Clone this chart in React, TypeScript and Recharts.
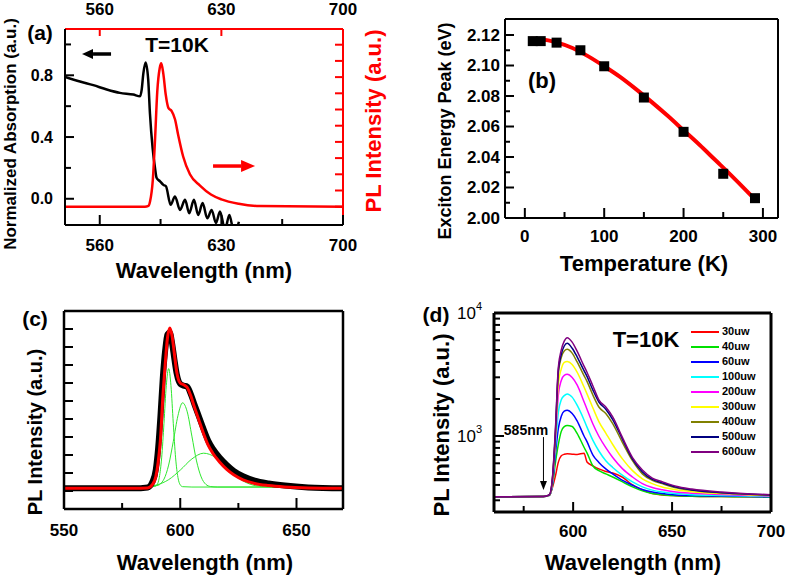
import React from 'react'
import { ComposedChart, Line, Scatter, XAxis, YAxis, ReferenceLine, Legend } from 'recharts'

const W = 787
const H = 578
const FONT = '"Liberation Sans", Arial, Helvetica, sans-serif'

// (a) absorption + PL at 10 K
const absNm = [540, 548.6, 556.3, 564, 571.6, 579.3, 583.2, 584.1, 585.1, 586.4, 587.9, 588.9, 590.4, 591.8, 592.7, 594.7, 596.6, 598.1, 600.8, 603.3, 606.2, 609.1, 611.5, 614.2, 616.7, 619.2, 621.9, 624.4, 626.9, 629.2, 632.1, 634.6, 637.3, 640.1]
const absVal = [0.79, 0.76, 0.736, 0.708, 0.686, 0.675, 0.664, 0.704, 0.813, 0.883, 0.77, 0.551, 0.332, 0.2, 0.136, 0.113, 0.09, 0.081, -0.039, 0.015, -0.072, -0.007, -0.094, -0.007, -0.105, -0.028, -0.127, -0.072, -0.157, -0.083, -0.2, -0.105, -0.22, -0.149]
const plNm = [540, 586, 588, 589, 590.5, 591.8, 593.1, 594.5, 595.4, 596.6, 598, 599.5, 601.4, 603.3, 605.2, 608, 611.9, 617.7, 624, 630, 640, 652, 700]
const plVal = [0, 0, 0.05, 0.35, 1.6, 4.1, 7.1, 8.55, 8.85, 8.2, 6.9, 6.1, 5.9, 5.4, 4.4, 3.1, 2.0, 1.3, 0.75, 0.45, 0.18, 0.04, 0]

// (b) exciton peak vs temperature
const tempK = [10, 20, 40, 70, 100, 150, 200, 250, 290]
const peakEv = [2.116, 2.116, 2.115, 2.11, 2.0995, 2.079, 2.0565, 2.029, 2.013]
const fitK = [8, 20, 40, 60, 80, 100, 120, 140, 160, 180, 200, 220, 240, 260, 280, 292]
const fitEv = [2.1175, 2.1172, 2.1152, 2.1115, 2.106, 2.0995, 2.0925, 2.0845, 2.076, 2.067, 2.0575, 2.048, 2.038, 2.028, 2.0175, 2.011]

// (c) PL spectrum with three-peak fit
const specNm = [550, 580, 586, 588, 589.5, 590.5, 591.5, 592.5, 593.5, 594.5, 595.5, 596.5, 597.5, 598.5, 600, 601.5, 603, 604.5, 606, 608, 610, 612, 614, 617, 620, 623, 627, 632, 638, 645, 655, 670]
const specData = [1.15, 1.15, 1.2, 1.5, 2.2, 3.4, 5.2, 7.3, 8.8, 9.7, 9.8, 9.2, 8.3, 7.5, 6.95, 6.85, 6.8, 6.4, 5.85, 5.15, 4.45, 3.8, 3.35, 2.85, 2.45, 2.12, 1.82, 1.58, 1.42, 1.3, 1.2, 1.15]
const specFit = [1.15, 1.15, 1.17, 1.35, 1.8, 2.6, 3.9, 6.2, 8.0, 9.5, 10.05, 9.6, 8.6, 7.6, 7.0, 6.9, 6.75, 6.3, 5.7, 4.95, 4.2, 3.55, 3.1, 2.6, 2.2, 1.9, 1.62, 1.42, 1.3, 1.22, 1.17, 1.15]
const g1Nm = [580, 589, 590, 591, 592, 593, 594, 595, 596, 597, 598, 599, 600, 601, 605, 650]
const g1Val = [1.22, 1.25, 1.34, 1.76, 2.84, 4.76, 6.86, 7.8, 6.86, 4.76, 2.84, 1.76, 1.34, 1.24, 1.22, 1.22]
const g2Nm = [580, 590, 593, 595, 597, 599, 601, 603, 605, 607, 609, 611, 613, 616, 650]
const g2Val = [1.22, 1.3, 1.66, 2.44, 3.75, 5.18, 5.9, 5.4, 4.05, 2.67, 1.78, 1.37, 1.25, 1.22, 1.22]
const g3Nm = [580, 585, 590, 595, 600, 605, 610, 615, 620, 625, 630, 635, 640, 650]
const g3Val = [1.22, 1.24, 1.34, 1.63, 2.16, 2.78, 3.1, 2.88, 2.29, 1.72, 1.38, 1.25, 1.22, 1.22]

// (d) power dependent PL (log scale)
const wlD = [560, 585, 588, 589.5, 591, 592.5, 594, 595.5, 597, 599.5, 602, 605.5, 607, 610, 613, 616.5, 620, 625, 630, 635, 640, 645, 652, 660, 675, 690, 700]
const p30 = [320, 322, 330, 380, 470, 610, 690, 710, 716, 712, 708, 725, 615, 572, 540, 515, 500, 462, 400, 365, 340, 332, 327, 324, 322, 320, 318]
const p40 = [320, 322, 330, 390, 600, 850, 1090, 1190, 1216, 1194, 1050, 810, 730, 570, 523, 492, 464, 423, 386, 358, 341, 333, 327, 324, 322, 320, 318]
const p60 = [320, 322, 330, 400, 700, 1150, 1450, 1590, 1618, 1524, 1330, 1000, 900, 700, 610, 540, 492, 436, 398, 367, 350, 340, 332, 328, 325, 322, 320]
const p100 = [320, 322, 330, 410, 800, 1550, 1970, 2130, 2200, 2070, 1780, 1350, 1180, 920, 755, 630, 555, 478, 423, 386, 363, 350, 340, 333, 328, 324, 322]
const p200 = [320, 322, 331, 420, 900, 2150, 2830, 3110, 3170, 2990, 2600, 1900, 1650, 1250, 995, 803, 668, 540, 464, 410, 381, 365, 350, 342, 334, 328, 325]
const p300 = [320, 322, 331, 430, 950, 2650, 3500, 3960, 4040, 3810, 3300, 2500, 2200, 1690, 1310, 1056, 853, 648, 523, 449, 410, 385, 365, 352, 340, 332, 328]
const p400 = [320, 322, 332, 440, 1000, 3200, 4350, 4920, 5070, 4720, 4000, 3100, 2780, 2150, 1722, 1524, 1260, 880, 630, 492, 436, 410, 380, 362, 345, 335, 330]
const p500 = [320, 322, 332, 445, 1050, 3400, 4600, 5390, 5670, 5170, 4400, 3400, 3050, 2360, 1890, 1650, 1360, 935, 648, 510, 444, 416, 384, 364, 346, 336, 331]
const p600 = [320, 322, 333, 450, 1100, 3600, 5000, 5900, 6300, 5800, 4900, 3700, 3300, 2550, 1970, 1722, 1430, 964, 668, 530, 455, 425, 390, 370, 350, 338, 333]
const powerNames = ['30uw', '40uw', '60uw', '100uw', '200uw', '300uw', '400uw', '500uw', '600uw']
const powerColors = ['#ff0000', '#00e000', '#0000ff', '#00ffff', '#ff00ff', '#ffff00', '#808000', '#000080', '#800080']
const powerValues = [p30, p40, p60, p100, p200, p300, p400, p500, p600]

const pts = (xs: number[], ys: number[]) => xs.map((x, i) => ({ x, y: ys[i] }))

type Side = 'bottom' | 'top' | 'left' | 'right'
interface TickCfg {
  side: Side
  color?: string
  major?: number[]
  label?: (v: number) => React.ReactNode
  long?: number
  short?: number
  gap?: number
  size?: number
  weight?: string
}

function makeTick(c: TickCfg) {
  return (p: any) => {
    const v = p.payload.value
    const { x, y } = p
    const isMajor = !c.major || c.major.some((m) => Math.abs(m - v) < 1e-9)
    const len = isMajor ? (c.long ?? 8) : (c.short ?? 5)
    const gap = c.gap ?? 18
    const st = { fontFamily: FONT, fontWeight: c.weight ?? 'bold', fontSize: c.size ?? 16 }
    const txt = isMajor && c.label ? c.label(v) : null
    let ln = null
    let tx = null
    if (c.side === 'bottom') {
      ln = <line x1={x} y1={y} x2={x} y2={y - len} />
      if (txt != null) tx = <text x={x} y={y + gap} textAnchor="middle" dominantBaseline="central" style={st} fill="#000">{txt}</text>
    } else if (c.side === 'top') {
      ln = <line x1={x} y1={y} x2={x} y2={y + len} />
      if (txt != null) tx = <text x={x} y={y - gap} textAnchor="middle" dominantBaseline="central" style={st} fill="#000">{txt}</text>
    } else if (c.side === 'left') {
      ln = <line x1={x} y1={y} x2={x + len} y2={y} />
      if (txt != null) tx = <text x={x - gap} y={y} textAnchor="end" dominantBaseline="central" style={st} fill="#000">{txt}</text>
    } else {
      ln = <line x1={x} y1={y} x2={x - len} y2={y} />
    }
    return <g stroke={c.color ?? '#000'} strokeWidth={2}>{ln}<g stroke="none">{tx}</g></g>
  }
}

function arrowShape(color: string, w: number, head: number, half: number) {
  return (p: any) => {
    const { x1, y1, x2, y2 } = p
    const a = Math.atan2(y2 - y1, x2 - x1)
    const bx = x2 - head * Math.cos(a)
    const by = y2 - head * Math.sin(a)
    const px = -Math.sin(a) * half
    const py = Math.cos(a) * half
    return <g>
      <line x1={x1} y1={y1} x2={bx} y2={by} stroke={color} strokeWidth={w} />
      <polygon points={`${x2},${y2} ${bx + px},${by + py} ${bx - px},${by - py}`} fill={color} />
    </g>
  }
}

function Txt({ x, y, size, children, rot, color }: { x: number; y: number; size: number; children: React.ReactNode; rot?: boolean; color?: string }) {
  return <div style={{
    position: 'absolute', left: x, top: y, transform: `translate(-50%, -50%)${rot ? ' rotate(-90deg)' : ''}`,
    fontFamily: FONT, fontWeight: 'bold', fontSize: size, whiteSpace: 'nowrap', color: color ?? '#000', lineHeight: 1,
  }}>{children}</div>
}

const frame = (c = '#000', w = 2) => ({ stroke: c, strokeWidth: w })
// axes are 1px wide/high, so the margin stops 1px short of the plot box
const margins = (l: number, t: number, r: number, b: number) => ({ left: l - 1, top: t - 1, right: W - r - 1, bottom: H - b - 1 })
const sup = (v: number) => <><tspan>10</tspan><tspan dy={-7} fontSize={11}>{Math.round(Math.log10(v))}</tspan></>

function PowerLegend({ payload }: any) {
  const items = [...(payload ?? [])].sort((a: any, b: any) => powerNames.indexOf(a.value) - powerNames.indexOf(b.value))
  return <div>
    {items.map((e: any) => <div key={e.value} style={{ display: 'flex', alignItems: 'center', height: 15 }}>
      <span style={{ display: 'inline-block', width: 28, borderTop: `2px solid ${e.color}`, marginRight: 3 }} />
      <span style={{ fontFamily: FONT, fontWeight: 'bold', fontSize: 11, lineHeight: '15px' }}>{e.value}</span>
    </div>)}
  </div>
}

const layer: React.CSSProperties = { position: 'absolute', left: 0, top: 0 }

export default function App() {
  return <div style={{ position: 'absolute', left: 0, top: 0, width: W, height: H, background: '#fff', overflow: 'hidden' }}>
    {/* (a) */}
    <div style={layer}>
      <ComposedChart width={W} height={H} margin={margins(65, 29, 343, 225)}>
        <XAxis xAxisId="b" dataKey="x" type="number" domain={[540, 700]} allowDataOverflow height={1} ticks={[560, 595, 630, 665, 700]} interval={0} tickSize={0} tickMargin={0} tickLine={false} axisLine={frame()} tick={makeTick({ side: 'bottom', major: [560, 630, 700], long: 10, short: 6, gap: 20, size: 17, label: (v) => String(v) })} />
        <XAxis xAxisId="t" orientation="top" dataKey="x" type="number" domain={[540, 700]} allowDataOverflow height={1} ticks={[560, 630, 700]} interval={0} tickSize={0} tickMargin={0} tickLine={false} axisLine={frame('#ff0000')} tick={makeTick({ side: 'top', color: '#ff0000', long: 7, gap: 20, size: 17, label: (v) => String(v) })} />
        <YAxis yAxisId="l" type="number" domain={[-0.17, 1.1]} allowDataOverflow width={1} ticks={[0, 0.2, 0.4, 0.6, 0.8, 1.0]} interval={0} tickSize={0} tickMargin={0} tickLine={false} axisLine={frame()} tick={makeTick({ side: 'left', major: [0, 0.4, 0.8], long: 9, short: 6, gap: 12, label: (v) => v.toFixed(1) })} />
        <YAxis yAxisId="r" orientation="right" type="number" domain={[-1.13, 10.97]} allowDataOverflow width={1} ticks={[0, 1, 2, 3, 4, 5, 6, 7, 8, 9, 10]} interval={0} tickSize={0} tickMargin={0} tickLine={false} axisLine={frame('#ff0000')} tick={makeTick({ side: 'right', color: '#ff0000', long: 8 })} />
        <Line xAxisId="b" yAxisId="l" data={pts(absNm, absVal)} dataKey="y" type="monotone" stroke="#000" strokeWidth={2.5} dot={false} activeDot={false} isAnimationActive={false} />
        <Line xAxisId="b" yAxisId="r" data={pts(plNm, plVal)} dataKey="y" type="monotone" stroke="#ff0000" strokeWidth={2.5} dot={false} activeDot={false} isAnimationActive={false} />
        <ReferenceLine xAxisId="b" yAxisId="l" segment={[{ x: 566.5, y: 0.938 }, { x: 549.8, y: 0.938 }]} shape={arrowShape('#000', 3.5, 11, 5)} />
        <ReferenceLine xAxisId="b" yAxisId="r" segment={[{ x: 625.2, y: 2.51 }, { x: 649.4, y: 2.51 }]} shape={arrowShape('#ff0000', 3.5, 14, 6)} />
      </ComposedChart>
    </div>

    {/* (b) */}
    <div style={layer}>
      <ComposedChart width={W} height={H} margin={margins(505, 19, 778, 218)}>
        <XAxis dataKey="x" type="number" domain={[-25, 319]} allowDataOverflow height={1} ticks={[0, 50, 100, 150, 200, 250, 300]} interval={0} tickSize={0} tickMargin={0} tickLine={false} axisLine={frame()} tick={makeTick({ side: 'bottom', major: [0, 100, 200, 300], long: 10, short: 6, gap: 18, size: 17, label: (v) => String(v) })} />
        <XAxis xAxisId="t" orientation="top" type="number" domain={[-25, 319]} allowDataOverflow height={1} tick={false} tickLine={false} axisLine={frame()} />
        <YAxis type="number" domain={[2.0, 2.1305]} allowDataOverflow width={1} ticks={[2.0, 2.01, 2.02, 2.03, 2.04, 2.05, 2.06, 2.07, 2.08, 2.09, 2.1, 2.11, 2.12]} interval={0} tickSize={0} tickMargin={0} tickLine={false} axisLine={frame()} tick={makeTick({ side: 'left', major: [2.0, 2.02, 2.04, 2.06, 2.08, 2.1, 2.12], long: 9, short: 5, gap: 5, size: 17, label: (v) => v.toFixed(2) })} />
        <YAxis yAxisId="r" orientation="right" type="number" domain={[2.0, 2.1305]} allowDataOverflow width={1} tick={false} tickLine={false} axisLine={frame()} />
        <Scatter data={pts(tempK, peakEv)} dataKey="y" fill="#000" isAnimationActive={false} shape={(p: any) => <rect x={p.cx - 5} y={p.cy - 5} width={10} height={10} fill="#000" />} />
        <Line data={pts(fitK, fitEv)} dataKey="y" type="monotone" stroke="#ff0000" strokeWidth={4} dot={false} activeDot={false} isAnimationActive={false} />
      </ComposedChart>
    </div>

    {/* (c) */}
    <div style={layer}>
      <ComposedChart width={W} height={H} margin={margins(64, 311, 343, 509)}>
        <XAxis dataKey="x" type="number" domain={[550, 670]} allowDataOverflow height={1} ticks={[550, 575, 600, 625, 650]} interval={0} tickSize={0} tickMargin={0} tickLine={false} axisLine={frame('#000', 2.5)} tick={makeTick({ side: 'bottom', major: [550, 600, 650], long: 11, short: 6, gap: 21, size: 17, label: (v) => String(v) })} />
        <XAxis xAxisId="t" orientation="top" type="number" domain={[550, 670]} allowDataOverflow height={1} tick={false} tickLine={false} axisLine={frame('#000', 2.5)} />
        <YAxis type="number" domain={[0, 11]} allowDataOverflow width={1} ticks={[1, 2, 3, 4, 5, 6, 7, 8, 9, 10]} interval={0} tickSize={0} tickMargin={0} tickLine={false} axisLine={frame('#000', 2.5)} tick={makeTick({ side: 'left', long: 9 })} />
        <YAxis yAxisId="r" orientation="right" type="number" domain={[0, 11]} allowDataOverflow width={1} tick={false} tickLine={false} axisLine={frame('#000', 2.5)} />
        <Line data={pts(g1Nm, g1Val)} dataKey="y" type="monotone" stroke="#2ee82e" strokeWidth={1} dot={false} activeDot={false} isAnimationActive={false} />
        <Line data={pts(g2Nm, g2Val)} dataKey="y" type="monotone" stroke="#2ee82e" strokeWidth={1} dot={false} activeDot={false} isAnimationActive={false} />
        <Line data={pts(g3Nm, g3Val)} dataKey="y" type="monotone" stroke="#2ee82e" strokeWidth={1} dot={false} activeDot={false} isAnimationActive={false} />
        <Line data={pts(specNm, specData)} dataKey="y" type="monotone" stroke="#000" strokeWidth={6} dot={false} activeDot={false} isAnimationActive={false} />
        <Line data={pts(specNm, specFit)} dataKey="y" type="monotone" stroke="#ff0000" strokeWidth={3} dot={false} activeDot={false} isAnimationActive={false} />
      </ComposedChart>
    </div>

    {/* (d) */}
    <div style={layer}>
      <ComposedChart width={W} height={H} margin={margins(494, 313, 771, 512)}>
        <XAxis dataKey="x" type="number" domain={[560, 700]} allowDataOverflow height={1} ticks={[575, 600, 625, 650, 675, 700]} interval={0} tickSize={0} tickMargin={0} tickLine={false} axisLine={frame('#000', 3)} tick={makeTick({ side: 'bottom', major: [600, 650, 700], long: 10, short: 6, gap: 19, size: 17, label: (v) => String(v) })} />
        <XAxis xAxisId="t" orientation="top" type="number" domain={[560, 700]} allowDataOverflow height={1} tick={false} tickLine={false} axisLine={frame('#000', 3)} />
        <YAxis type="number" scale="log" domain={[241, 10000]} allowDataOverflow width={1} ticks={[300, 400, 500, 600, 700, 800, 900, 1000, 2000, 3000, 4000, 5000, 6000, 7000, 8000, 9000, 10000]} interval={0} tickSize={0} tickMargin={0} tickLine={false} axisLine={frame('#000', 3)} tick={makeTick({ side: 'left', major: [1000, 10000], long: 10, short: 6, gap: 12, size: 17, weight: 'normal', label: sup })} />
        <YAxis yAxisId="r" orientation="right" type="number" domain={[241, 10000]} allowDataOverflow width={1} tick={false} tickLine={false} axisLine={frame('#000', 3)} />
        {powerNames.map((n, i) => <Line key={n} name={n} data={pts(wlD, powerValues[i])} dataKey="y" type="monotone" stroke={powerColors[i]} strokeWidth={1.5} dot={false} activeDot={false} isAnimationActive={false} />)}
        <ReferenceLine segment={[{ x: 585, y: 980 }, { x: 585, y: 364 }]} shape={arrowShape('#000', 1, 9, 3.5)} />
        <Legend layout="vertical" align="center" verticalAlign="middle" wrapperStyle={{ left: 691, top: 324, width: 90 }} content={(p: any) => <PowerLegend {...p} />} />
      </ComposedChart>
    </div>

    <Txt x={40} y={32} size={21}>(a)</Txt>
    <Txt x={177} y={44} size={21}>T=10K</Txt>
    <Txt x={10} y={134} size={17} rot>Normalized Absorption (a.u.)</Txt>
    <Txt x={374} y={121} size={22} rot color="#ff0000">PL Intensity (a.u.)</Txt>
    <Txt x={204} y={271} size={22}>Wavelength (nm)</Txt>

    <Txt x={542} y={81} size={22}>(b)</Txt>
    <Txt x={445} y={131} size={18} rot>Exciton Energy Peak (eV)</Txt>
    <Txt x={644} y={264} size={22}>Temperature (K)</Txt>

    <Txt x={35} y={318} size={21}>(c)</Txt>
    <Txt x={35} y={432} size={20} rot>PL Intensity (a.u.)</Txt>
    <Txt x={205} y={563} size={22}>Wavelength (nm)</Txt>

    <Txt x={436} y={314} size={21}>(d)</Txt>
    <Txt x={442} y={425} size={22} rot>PL Intensity (a.u.)</Txt>
    <Txt x={633} y={563} size={22}>Wavelength (nm)</Txt>
    <Txt x={646} y={340} size={22}>T=10K</Txt>
    <Txt x={526} y={430} size={14}>585nm</Txt>
  </div>
}
